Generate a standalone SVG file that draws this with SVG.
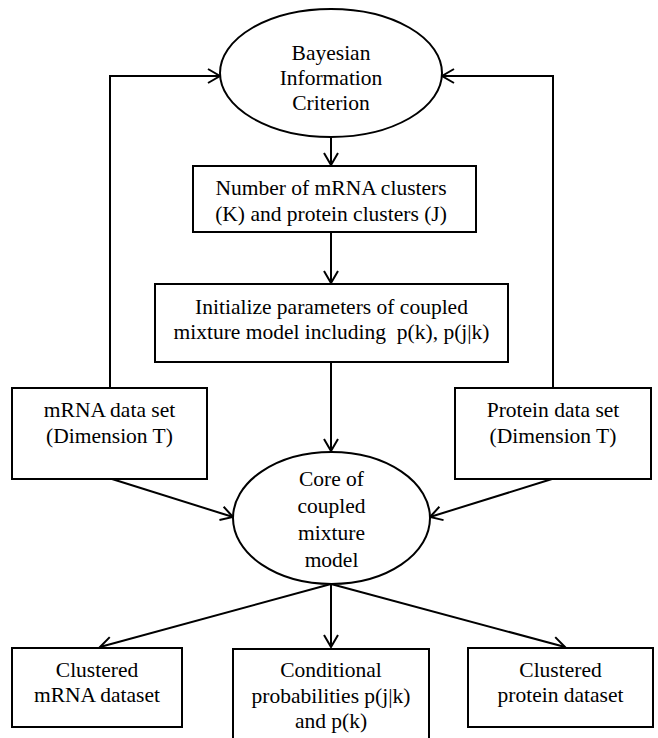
<svg xmlns="http://www.w3.org/2000/svg" width="658" height="738" viewBox="0 0 658 738">
<style>
.n{fill:#fff;stroke:#000;stroke-width:2}
.t{font-family:"Liberation Serif","Times New Roman",serif;font-size:21.5px;fill:#000;text-anchor:middle}
.c{fill:none;stroke:#000;stroke-width:2;marker-end:url(#ah)}
</style>
<defs>
<marker id="ah" viewBox="0 0 20 20" refX="18" refY="10" markerWidth="20" markerHeight="20" markerUnits="userSpaceOnUse" orient="auto">
<path d="M6,3 L18,10 L6,17" fill="none" stroke="#000" stroke-width="2"/>
</marker>
</defs>
<rect width="658" height="738" fill="#fff"/>
<g id="connectors">
<path class="c" d="M110,388 V76 H220"/>
<path class="c" d="M553,388 V76 H442"/>
<path class="c" d="M331,137 V165"/>
<path class="c" d="M331,232 V283"/>
<path class="c" d="M331,362 V451"/>
<path class="c" d="M112,479 L233,517"/>
<path class="c" d="M552,479 L430,517"/>
<path class="c" d="M331,584 L100,647"/>
<path class="c" d="M331,584 V647"/>
<path class="c" d="M331,584 L565,647"/>
</g>
<g id="bic">
<ellipse class="n" cx="331" cy="73" rx="111" ry="64"/>
<text class="t" x="331" y="60">Bayesian</text>
<text class="t" x="331" y="85">Information</text>
<text class="t" x="331" y="110">Criterion</text>
</g>
<g id="numclusters">
<rect class="n" x="193" y="166" width="283" height="66"/>
<text class="t" x="331" y="195">Number of mRNA clusters</text>
<text class="t" x="331" y="221">(K) and protein clusters (J)</text>
</g>
<g id="init">
<rect class="n" x="155" y="284" width="353" height="78"/>
<text class="t" x="331.5" y="314">Initialize parameters of coupled</text>
<text class="t" x="331.5" y="339" style="white-space:pre">mixture model including  p(k), p(j|k)</text>
</g>
<g id="mrna">
<rect class="n" x="12" y="388" width="195" height="91"/>
<text class="t" x="109.5" y="417">mRNA data set</text>
<text class="t" x="109.5" y="443">(Dimension T)</text>
</g>
<g id="protein">
<rect class="n" x="455" y="388" width="196" height="91"/>
<text class="t" x="553" y="417">Protein data set</text>
<text class="t" x="553" y="443">(Dimension T)</text>
</g>
<g id="core">
<ellipse class="n" cx="331.5" cy="518" rx="98.5" ry="66"/>
<text class="t" x="331.5" y="486">Core of</text>
<text class="t" x="331.5" y="513">coupled</text>
<text class="t" x="331.5" y="540">mixture</text>
<text class="t" x="331.5" y="567">model</text>
</g>
<g id="clustmrna">
<rect class="n" x="12" y="648" width="170" height="79"/>
<text class="t" x="97" y="677">Clustered</text>
<text class="t" x="97" y="702">mRNA dataset</text>
</g>
<g id="condprob">
<rect class="n" x="233" y="649" width="196" height="100"/>
<text class="t" x="331" y="677">Conditional</text>
<text class="t" x="331" y="703">probabilities p(j|k)</text>
<text class="t" x="331" y="728">and p(k)</text>
</g>
<g id="clustprot">
<rect class="n" x="468" y="648" width="185" height="79"/>
<text class="t" x="560.5" y="677">Clustered</text>
<text class="t" x="560.5" y="702">protein dataset</text>
</g>
</svg>
